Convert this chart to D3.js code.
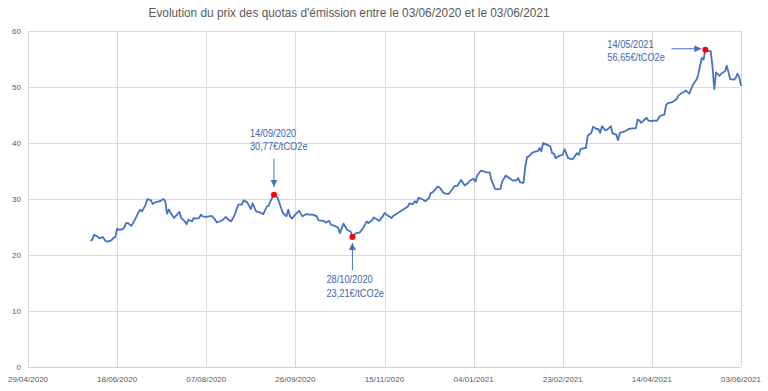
<!DOCTYPE html>
<html>
<head>
<meta charset="utf-8">
<script src="https://cdn.jsdelivr.net/npm/d3@7"></script>
<style>
    html, body { margin: 0; padding: 0; background: #fff; }
    svg { display: block; font-family: "Liberation Sans", Arial, sans-serif; }
    .grid line { stroke: #d9d9d9; stroke-width: 1; shape-rendering: crispEdges; }
    .grid .domain { display: none; }
    .tick-label { fill: #595959; font-size: 8px; }
    .note { fill: #3f66ae; font-size: 11px; }
</style>
</head>
<body>
<svg id="chart" width="768" height="391"></svg>
<script>
const dates = [
    "03/06/2020","04/06/2020","05/06/2020","07/06/2020","08/06/2020","10/06/2020","11/06/2020","12/06/2020","14/06/2020","15/06/2020",
    "16/06/2020","17/06/2020","18/06/2020","19/06/2020","21/06/2020","22/06/2020","23/06/2020","24/06/2020","26/06/2020","28/06/2020",
    "30/06/2020","01/07/2020","02/07/2020","04/07/2020","05/07/2020","07/07/2020","08/07/2020","10/07/2020","12/07/2020","14/07/2020",
    "15/07/2020","16/07/2020","17/07/2020","18/07/2020","20/07/2020","21/07/2020","23/07/2020","24/07/2020","26/07/2020","27/07/2020",
    "28/07/2020","30/07/2020","31/07/2020","01/08/2020","03/08/2020","04/08/2020","05/08/2020","07/08/2020","10/08/2020","12/08/2020",
    "13/08/2020","16/08/2020","18/08/2020","19/08/2020","21/08/2020","23/08/2020","24/08/2020","25/08/2020","27/08/2020","28/08/2020",
    "30/08/2020","01/09/2020","02/09/2020","04/09/2020","06/09/2020","08/09/2020","10/09/2020","11/09/2020","12/09/2020","14/09/2020",
    "16/09/2020","17/09/2020","18/09/2020","19/09/2020","21/09/2020","22/09/2020","23/09/2020","24/09/2020","26/09/2020","28/09/2020",
    "30/09/2020","01/10/2020","02/10/2020","04/10/2020","06/10/2020","08/10/2020","09/10/2020","12/10/2020","13/10/2020","15/10/2020",
    "16/10/2020","18/10/2020","20/10/2020","21/10/2020","23/10/2020","24/10/2020","25/10/2020","27/10/2020","28/10/2020","30/10/2020",
    "01/11/2020","03/11/2020","05/11/2020","06/11/2020","08/11/2020","09/11/2020","11/11/2020","12/11/2020","14/11/2020","15/11/2020",
    "17/11/2020","19/11/2020","20/11/2020","22/11/2020","24/11/2020","26/11/2020","28/11/2020","29/11/2020","01/12/2020","02/12/2020",
    "03/12/2020","04/12/2020","06/12/2020","08/12/2020","10/12/2020","11/12/2020","12/12/2020","15/12/2020","16/12/2020","18/12/2020",
    "20/12/2020","21/12/2020","23/12/2020","24/12/2020","26/12/2020","27/12/2020","28/12/2020","30/12/2020","01/01/2021","02/01/2021",
    "04/01/2021","05/01/2021","06/01/2021","08/01/2021","10/01/2021","11/01/2021","13/01/2021","14/01/2021","16/01/2021","17/01/2021",
    "19/01/2021","20/01/2021","22/01/2021","24/01/2021","26/01/2021","28/01/2021","29/01/2021","30/01/2021","31/01/2021","01/02/2021",
    "02/02/2021","03/02/2021","04/02/2021","06/02/2021","08/02/2021","09/02/2021","10/02/2021","11/02/2021","12/02/2021","14/02/2021",
    "16/02/2021","17/02/2021","18/02/2021","19/02/2021","21/02/2021","23/02/2021","24/02/2021","26/02/2021","28/02/2021","01/03/2021",
    "03/03/2021","04/03/2021","05/03/2021","07/03/2021","08/03/2021","09/03/2021","11/03/2021","12/03/2021","14/03/2021","15/03/2021",
    "16/03/2021","17/03/2021","19/03/2021","20/03/2021","22/03/2021","23/03/2021","25/03/2021","26/03/2021","27/03/2021","28/03/2021",
    "30/03/2021","01/04/2021","03/04/2021","05/04/2021","06/04/2021","07/04/2021","08/04/2021","09/04/2021","10/04/2021","11/04/2021",
    "12/04/2021","14/04/2021","15/04/2021","17/04/2021","18/04/2021","19/04/2021","21/04/2021","22/04/2021","23/04/2021","25/04/2021",
    "26/04/2021","28/04/2021","29/04/2021","01/05/2021","02/05/2021","03/05/2021","05/05/2021","06/05/2021","07/05/2021","09/05/2021",
    "10/05/2021","11/05/2021","12/05/2021","13/05/2021","14/05/2021","16/05/2021","17/05/2021","18/05/2021","19/05/2021","20/05/2021",
    "22/05/2021","23/05/2021","25/05/2021","26/05/2021","28/05/2021","30/05/2021","31/05/2021","01/06/2021","02/06/2021","03/06/2021"
];

const prices = [
    22.55,22.7,23.6,23.3,23.0,23.2,22.7,22.4,22.5,22.7,
    23.1,23.2,24.7,24.5,24.6,24.9,25.7,25.7,25.2,26.3,
    27.6,28.1,27.8,29.0,30.0,29.75,29.1,29.5,29.6,30.0,
    29.6,27.4,28.1,27.5,26.6,27.0,27.7,26.6,26.0,25.5,
    26.3,26.0,26.6,26.5,26.6,27.2,26.9,26.8,27.0,26.3,
    25.8,26.2,26.8,26.4,26.0,27.2,28.2,29.0,29.0,29.75,
    29.4,28.2,29.2,27.8,27.6,27.3,28.7,28.8,29.6,30.77,
    30.2,29.3,28.4,27.5,26.9,28.1,26.9,26.5,27.2,27.9,
    26.9,27.1,27.3,27.2,27.2,26.9,26.2,26.1,25.8,26.1,
    25.4,25.2,24.9,23.9,25.6,25.1,24.5,24.2,23.21,23.9,
    24.0,24.8,26.0,25.7,26.2,26.7,26.3,26.1,26.9,27.5,
    27.0,26.6,27.0,27.4,27.8,28.2,28.6,29.2,29.1,29.6,
    29.3,30.2,30.0,29.6,30.2,31.1,31.2,32.25,32.0,31.1,
    30.9,30.9,31.7,32.25,32.4,32.9,33.4,32.4,32.9,33.3,
    33.6,33.1,34.2,35.05,34.9,34.75,34.75,33.4,31.8,31.7,
    31.8,33.1,34.2,33.75,33.3,33.3,33.75,33.0,32.9,32.9,
    35.8,37.5,37.6,38.3,38.5,38.5,39.1,38.5,40.0,39.7,
    39.4,38.2,38.1,37.3,37.7,37.9,38.9,37.3,37.1,37.25,
    38.2,37.9,38.9,39.1,39.1,41.3,41.8,42.9,42.5,42.5,
    41.8,43.0,42.25,42.4,43.0,41.7,41.5,40.5,41.8,41.9,
    42.1,42.5,42.6,42.6,44.2,44.0,43.6,43.9,44.2,44.5,
    44.0,43.9,44.0,44.0,44.6,44.9,45.05,46.8,47.1,47.25,
    47.4,47.9,48.5,49.0,49.1,49.4,48.8,49.6,50.4,51.3,
    52.2,53.7,55.2,54.9,56.65,56.4,56.4,53.7,49.6,52.6,
    52.0,52.4,52.8,53.8,51.4,51.3,51.6,52.4,51.8,50.2
];

const xTickDates = ["29/04/2020","18/06/2020","07/08/2020","26/09/2020","15/11/2020","04/01/2021","23/02/2021","14/04/2021","03/06/2021"];
const yTicks = [0, 10, 20, 30, 40, 50, 60];

const highlightDates = ["14/09/2020", "28/10/2020", "14/05/2021"];
const highlightLabels = [
    ["14/09/2020", "30,77€/tCO2e"],
    ["28/10/2020", "23,21€/tCO2e"],
    ["14/05/2021", "56,65€/tCO2e"]
];

const title = "Evolution du prix des quotas d'émission entre le 03/06/2020 et le 03/06/2021";

const parseDate = d3.timeParse("%d/%m/%Y");
const formatDate = d3.timeFormat("%d/%m/%Y");
const series = dates.map((d, i) => ({ date: parseDate(d), value: prices[i] }));

// the source used a narrow (Calibri-like) face, squeeze the fallback font to match
function condense(sel, f) {
    sel.each(function() {
        const w = this.getComputedTextLength();
        d3.select(this).attr("textLength", w * f).attr("lengthAdjust", "spacingAndGlyphs");
    });
}

const svg = d3.select("#chart");
const margin = { top: 31, right: 27, bottom: 24, left: 28 };
const width = 768 - margin.left - margin.right;
const height = 391 - margin.top - margin.bottom;

const xTicks = xTickDates.map(parseDate);
const x = d3.scaleTime().domain([xTicks[0], xTicks[xTicks.length - 1]]).range([0, width]);
const y = d3.scaleLinear().domain([0, 60]).range([height, 0]);

svg.append("text")
    .attr("x", 349).attr("y", 17)
    .attr("text-anchor", "middle")
    .attr("fill", "#595959")
    .style("font-size", "13.5px")
    .text(title)
    .attr("textLength", 401).attr("lengthAdjust", "spacingAndGlyphs");

const g = svg.append("g").attr("transform", `translate(${margin.left},${margin.top})`);

// gridlines (horizontal + vertical), labels drawn separately
g.append("g").attr("class", "grid")
    .call(d3.axisLeft(y).tickValues(yTicks).tickSize(-width).tickFormat(""));
g.append("g").attr("class", "grid")
    .attr("transform", `translate(0,${height})`)
    .call(d3.axisBottom(x).tickValues(xTicks).tickSize(height).tickFormat(""))
    .selectAll("line").attr("y2", -height);
g.append("line")
    .attr("x1", 0).attr("x2", width).attr("y1", height).attr("y2", height)
    .attr("stroke", "#d0d0d0").attr("shape-rendering", "crispEdges");

g.selectAll(".y-label").data(yTicks).join("text")
    .attr("class", "tick-label")
    .attr("x", -7).attr("y", d => y(d)).attr("dy", "0.35em")
    .attr("text-anchor", "end")
    .text(d => d);

g.selectAll(".x-label").data(xTicks).join("text")
    .attr("class", "tick-label")
    .attr("x", d => x(d)).attr("y", height + 15)
    .attr("text-anchor", "middle")
    .text(d => formatDate(d));

const line = d3.line().x(d => x(d.date)).y(d => y(d.value));
g.append("path").datum(series)
    .attr("fill", "none")
    .attr("stroke", "#4472c4")
    .attr("stroke-width", 1.8)
    .attr("stroke-linejoin", "round")
    .attr("d", line);

// arrowhead marker
svg.append("defs").append("marker")
    .attr("id", "arrow")
    .attr("viewBox", "0 0 10 10")
    .attr("refX", 10).attr("refY", 5)
    .attr("markerWidth", 7).attr("markerHeight", 7)
    .attr("markerUnits", "userSpaceOnUse")
    .attr("orient", "auto")
    .append("path").attr("d", "M0,0 L10,5 L0,10 Z").attr("fill", "#4472c4");

const highlights = highlightDates.map((d, i) => {
    const date = parseDate(d);
    const p = series.find(s => +s.date === +date);
    return { date, value: p.value, lines: highlightLabels[i] };
});

// arrow + label offsets relative to the marked point
const noteLayout = [
    { ax1: 0, ay1: -36, ax2: 0, ay2: -8, tx: -24, ty: -58 },
    { ax1: 0, ay1: 33, ax2: 0, ay2: 6, tx: -26, ty: 46 },
    { ax1: -34, ay1: -1, ax2: -4, ay2: -1, tx: -98, ty: -2 }
];

highlights.forEach((h, i) => {
    const px = x(h.date), py = y(h.value);
    const l = noteLayout[i];
    g.append("line")
        .attr("x1", px + l.ax1).attr("y1", py + l.ay1)
        .attr("x2", px + l.ax2).attr("y2", py + l.ay2)
        .attr("stroke", "#4472c4").attr("stroke-width", 1)
        .attr("marker-end", "url(#arrow)");
    g.selectAll(null).data(h.lines).join("text")
        .attr("class", "note")
        .attr("x", px + l.tx)
        .attr("y", (s, k) => py + l.ty + k * 13.5)
        .text(s => s)
        .call(condense, 0.84);
});

g.selectAll(".peak").data(highlights).join("circle")
    .attr("cx", d => x(d.date)).attr("cy", d => y(d.value))
    .attr("r", 3).attr("fill", "#ff0000");
</script>
</body>
</html>
